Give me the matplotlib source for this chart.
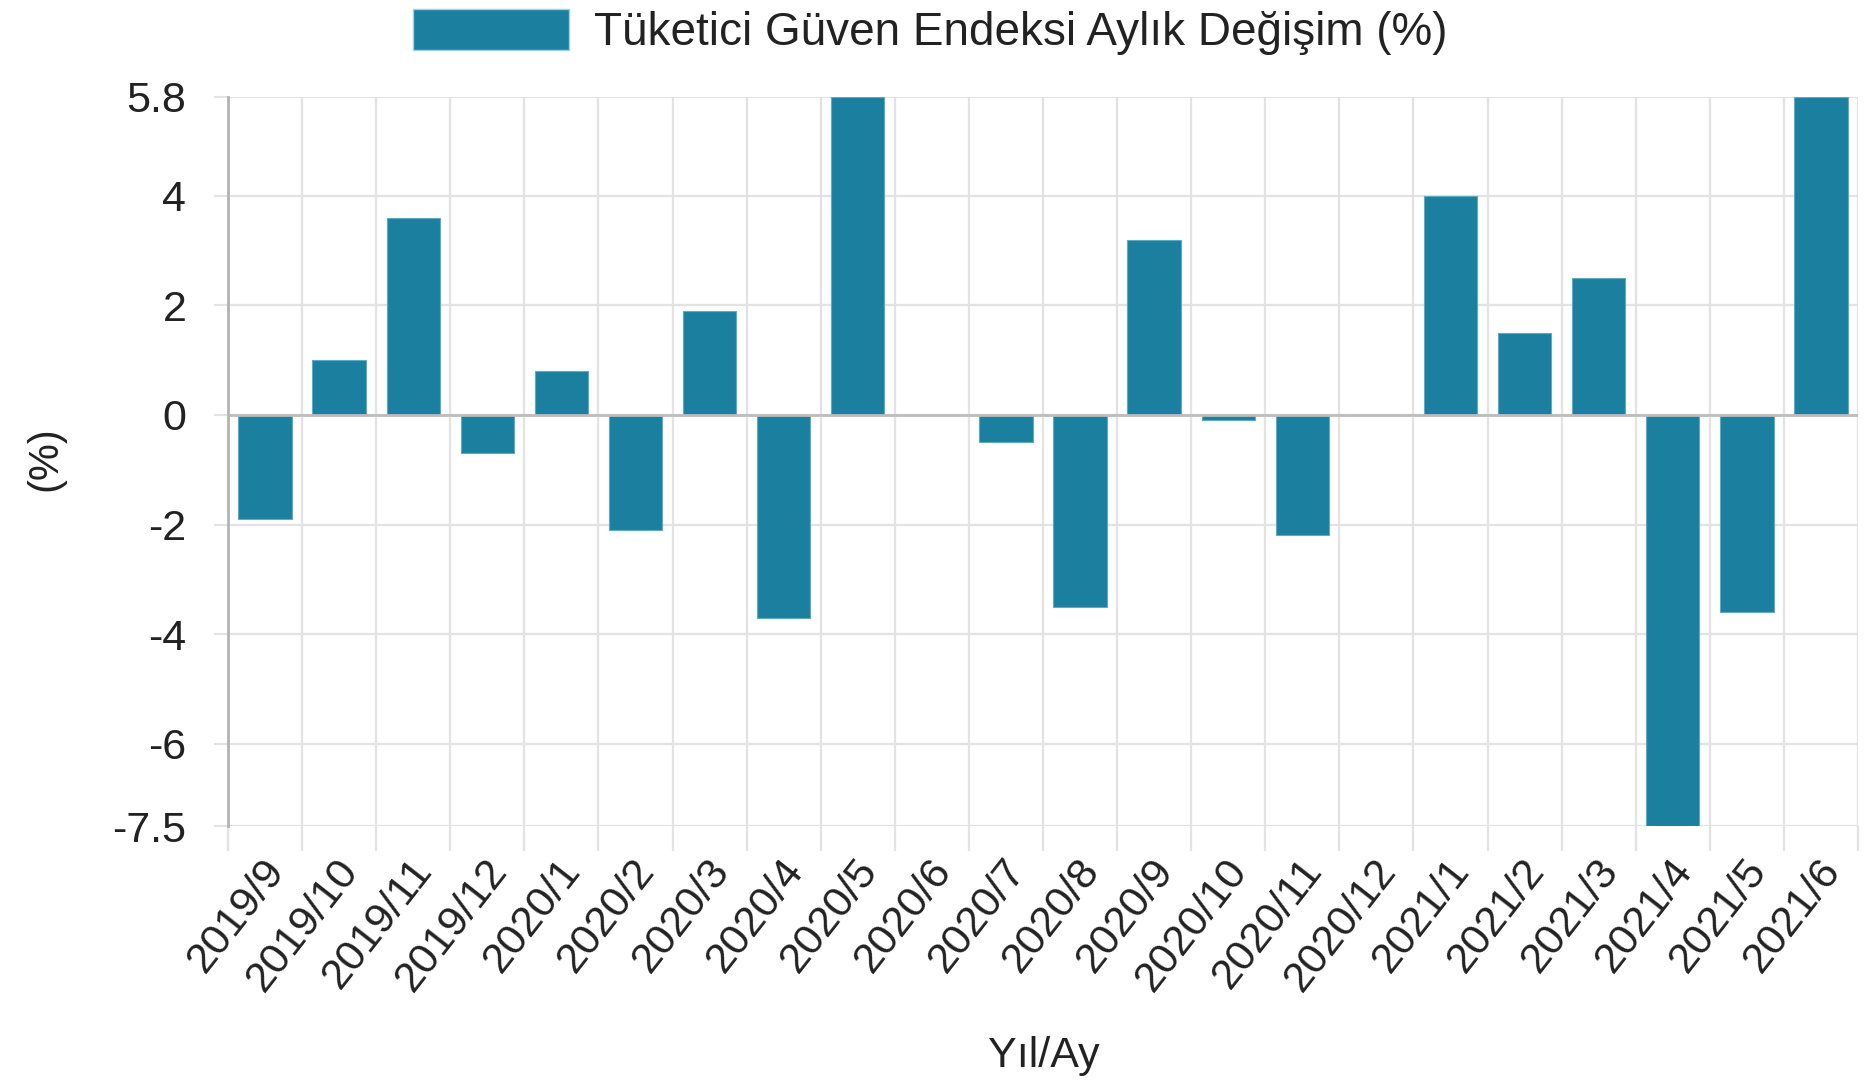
import matplotlib
matplotlib.use("Agg")
import matplotlib.pyplot as plt
import numpy as np
from matplotlib.patches import Patch
import matplotlib.transforms as mtransforms

plt.rcParams['font.family'] = ['Liberation Sans', 'DejaVu Sans']

categories = ["2019/9", "2019/10", "2019/11", "2019/12", "2020/1", "2020/2", "2020/3",
              "2020/4", "2020/5", "2020/6", "2020/7", "2020/8", "2020/9", "2020/10",
              "2020/11", "2020/12", "2021/1", "2021/2", "2021/3", "2021/4", "2021/5", "2021/6"]
values = [-1.9, 1.0, 3.6, -0.7, 0.8, -2.1, 1.9, -3.7, 5.8, 0.0, -0.5, -3.5, 3.2, -0.1,
          -2.2, 0.0, 4.0, 1.5, 2.5, -7.5, -3.6, 5.8]
y_ticks = [5.8, 4, 2, 0, -2, -4, -6, -7.5]
y_tick_labels = ["5.8", "4", "2", "0", "-2", "-4", "-6", "-7.5"]
series_name = "Tüketici Güven Endeksi Aylık Değişim (%)"

BAR = '#1b809f'
GRID = '#e3e3e3'
TXT = '#222222'

W, H = 1871, 1081
fig = plt.figure(figsize=(W / 100, H / 100), dpi=100)
left, right = 228 / W, 1858 / W
top, bottom = 1 - 97 / H, 1 - 826 / H
ax = fig.add_axes([left, bottom, right - left, top - bottom])

n = len(categories)
x = np.arange(n)
ax.bar(x, values, width=0.72, color=BAR, edgecolor='#5fa9c1', linewidth=0.8, zorder=3)

ax.set_xlim(-0.5, n - 0.5)
ax.set_ylim(-7.5, 5.8)

# y axis
ax.set_yticks(y_ticks)
ax.set_yticklabels(y_tick_labels, fontsize=31, color=TXT)
ax.tick_params(axis='y', length=10, width=1.5, color=GRID, pad=20)
for yv in y_ticks:
    ax.axhline(yv, color=GRID, lw=1.6, zorder=1)
ax.axhline(0, color='#bdbdbd', lw=2, zorder=4)

# x axis: gridlines at category boundaries, labels at centers
ax.set_xticks(x)
ax.set_xticklabels(categories, fontsize=31, color=TXT, rotation=52,
                   ha='right', va='center', rotation_mode='anchor')
ax.set_xticks(np.arange(-0.5, n, 1.0), minor=True)
ax.tick_params(axis='x', which='major', length=0, pad=27)
ax.tick_params(axis='x', which='minor', length=18, width=1.6, color=GRID)
for xv in np.arange(-0.5, n, 1.0):
    ax.axvline(xv, color=GRID, lw=1.6, zorder=1)
offset = mtransforms.ScaledTranslation(12 / 100, 0, fig.dpi_scale_trans)
for lbl in ax.get_xticklabels():
    lbl.set_transform(lbl.get_transform() + offset)

for s in ['top', 'right', 'bottom']:
    ax.spines[s].set_visible(False)
ax.spines['left'].set_color('#b3b3b3')
ax.spines['left'].set_linewidth(2)
ax.spines['left'].set_zorder(5)

fig.text(45 / W, 1 - 459 / H, "(%)", rotation=90, fontsize=30, color=TXT,
         ha='center', va='center')
fig.text(1044 / W, 1 - 1056 / H, "Yıl/Ay", fontsize=31, color=TXT,
         ha='center', va='center')

handle = Patch(facecolor=BAR, edgecolor='#9fd0de', linewidth=1)
fig.legend([handle], [series_name], loc='center', bbox_to_anchor=(930 / W, 1 - 32 / H),
           frameon=False, fontsize=33, handlelength=3.4, handleheight=1.0,
           handletextpad=0.55, labelcolor=TXT)

fig.savefig("out.png", dpi=100, facecolor='white')
